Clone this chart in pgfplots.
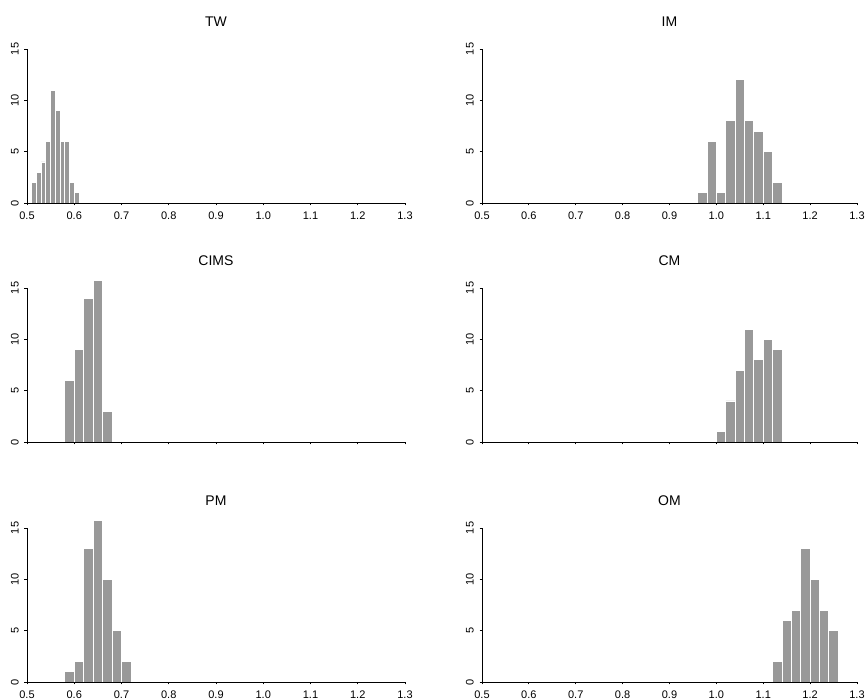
\documentclass[border=0pt]{standalone}
\usepackage{fontspec}
\setmainfont{Liberation Sans}
\usepackage{pgfplots}
\pgfplotsset{compat=1.18}
\definecolor{bargray}{RGB}{153,153,153}
\pgfplotsset{
  hist/.style={
    scale only axis,
    width=#1,
    height=160.16pt,
    xmin=0.5, xmax=1.3,
    ymin=0, ymax=15.6,
    clip mode=individual,
    axis x line=bottom, axis y line=left,
    axis line style={draw=none},
    xtick={0.5,0.6,0.7,0.8,0.9,1.0,1.1,1.2,1.3},
    ytick={0,5,10,15},
    major tick length=2.5pt,
    tick style={black, line width=0.8pt},
    tick align=outside,
    /pgf/number format/assume math mode=true,
    tick label style={font=\fontsize{11}{13}\selectfont},
    yticklabel style={rotate=90, anchor=south, inner sep=0pt},
    yticklabel shift=5.5pt,
    xticklabel style={inner sep=0pt, anchor=north},
    xticklabel shift=6.5pt,
    title style={anchor=center, yshift=14.8pt, font=\fontsize{14}{16}\selectfont, inner sep=0pt},
    anchor=south west,
  },
  withxlabels/.style={xticklabels={0.5,0.6,0.7,0.8,0.9,1.0,1.1,1.2,1.3}},
  noxlabels/.style={xticklabels={}},
}
\newcommand{\axlines}{%
  \draw[black, line width=0.8pt] (axis cs:0.5,0) -- (axis cs:1.3,0);
  \draw[black, line width=0.8pt] (axis cs:0.5,0) -- (axis cs:0.5,15);
}
\begin{document}
\begin{tikzpicture}
\useasboundingbox (0,0) rectangle (865pt,700pt);
% TW
\begin{axis}[hist=378pt, withxlabels, at={(27pt,497pt)}, title={TW}]
\addplot[ybar interval, fill=bargray, draw=white, line width=0.8pt] coordinates {
(0.51,2) (0.52,3) (0.53,4) (0.54,6) (0.55,11) (0.56,9) (0.57,6) (0.58,6) (0.59,2) (0.60,1) (0.61,0)};
\axlines
\end{axis}
% IM
\begin{axis}[hist=375pt, withxlabels, at={(482pt,497pt)}, title={IM}]
\addplot[ybar interval, fill=bargray, draw=white, line width=0.8pt] coordinates {
(0.96,1) (0.98,6) (1.00,1) (1.02,8) (1.04,12) (1.06,8) (1.08,7) (1.10,5) (1.12,2) (1.14,0)};
\axlines
\end{axis}
% CIMS
\begin{axis}[hist=378pt, noxlabels, at={(27pt,258pt)}, title={CIMS}]
\addplot[ybar interval, fill=bargray, draw=white, line width=0.8pt] coordinates {
(0.58,6) (0.60,9) (0.62,14) (0.64,16) (0.66,3) (0.68,0)};
\axlines
\end{axis}
% CM
\begin{axis}[hist=375pt, noxlabels, at={(482pt,258pt)}, title={CM}]
\addplot[ybar interval, fill=bargray, draw=white, line width=0.8pt] coordinates {
(1.00,1) (1.02,4) (1.04,7) (1.06,11) (1.08,8) (1.10,10) (1.12,9) (1.14,0)};
\axlines
\end{axis}
% PM
\begin{axis}[hist=378pt, withxlabels, at={(27pt,18pt)}, title={PM}]
\addplot[ybar interval, fill=bargray, draw=white, line width=0.8pt] coordinates {
(0.58,1) (0.60,2) (0.62,13) (0.64,16) (0.66,10) (0.68,5) (0.70,2) (0.72,0)};
\axlines
\end{axis}
% OM
\begin{axis}[hist=375pt, withxlabels, at={(482pt,18pt)}, title={OM}]
\addplot[ybar interval, fill=bargray, draw=white, line width=0.8pt] coordinates {
(1.12,2) (1.14,6) (1.16,7) (1.18,13) (1.20,10) (1.22,7) (1.24,5) (1.26,0)};
\axlines
\end{axis}
\end{tikzpicture}
\end{document}
